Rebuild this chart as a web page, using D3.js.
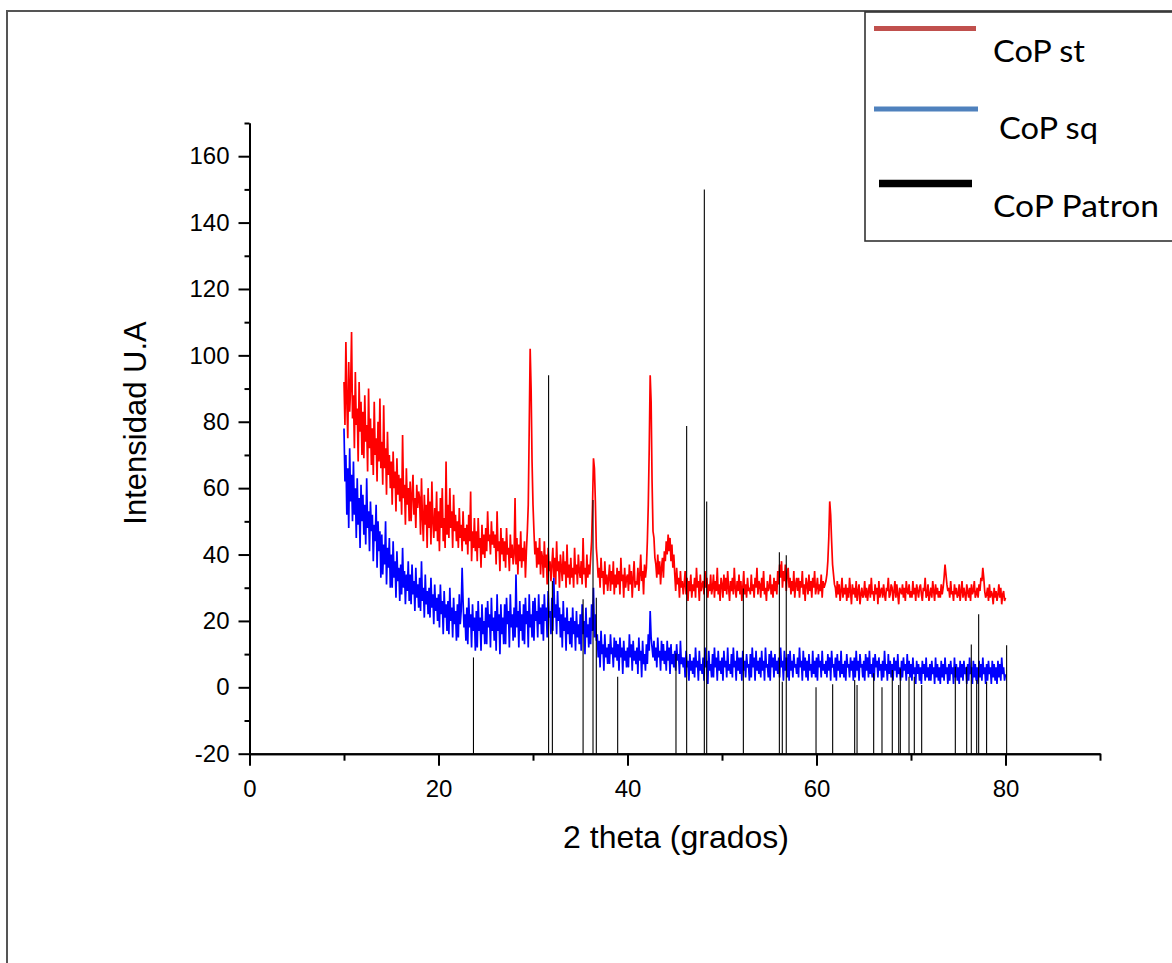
<!DOCTYPE html>
<html>
<head>
<meta charset="utf-8">
<script src="https://cdn.jsdelivr.net/npm/d3@7"></script>
<style>
  body { margin: 0; background: #fff; }
  svg { display: block; }
</style>
</head>
<body>
<script>
// XRD patterns, sampled every 0.1 deg from 10 to 80 (2 theta)
var thetaStart = 10, thetaStep = 0.1;

var copSt = [
  92,79,104,86,75,98,83,90,107,81,
  88,72,95,79,84,68,92,77,86,70,
  83,69,88,74,79,65,90,72,81,67,
  78,64,86,70,75,62,80,68,87,66,
  74,61,85,66,72,58,77,64,70,60,
  68,55,71,60,65,53,69,58,64,56,
  63,52,76,57,61,49,66,55,60,50,
  62,50,58,64,52,57,48,61,54,59,
  57,46,63,51,44,58,49,55,42,60,
  48,56,43,62,50,45,54,47,59,44,
  53,41,57,48,60,44,51,42,68,46,
  55,45,60,48,53,42,58,47,52,44,
  50,42,54,45,49,41,53,44,48,43,
  49,40,52,44,59,38,47,42,51,41,
  47,38,51,42,45,36,49,40,46,39,
  48,41,53,44,46,40,50,43,47,42,
  46,37,53,41,44,35,48,40,45,38,
  44,36,48,40,42,35,46,39,43,37,
  40,57,37,45,34,43,38,47,36,42,
  38,44,33,41,47,55,78,102,90,68,
  55,47,40,44,36,42,37,45,34,41,
  39,33,44,36,40,31,42,35,38,32,
  37,42,33,39,31,44,35,38,30,40,
  36,32,41,34,38,30,43,33,37,31,
  39,33,36,30,42,34,37,31,40,35,
  33,38,31,45,34,36,30,40,33,37,
  34,39,44,55,69,66,56,42,38,33,
  36,30,39,33,35,28,38,31,34,29,
  33,37,29,35,31,38,28,34,30,36,
  31,35,28,39,32,34,27,36,30,33,
  34,29,37,31,35,27,33,38,30,32,
  31,36,29,34,40,32,35,28,37,33,
  36,44,55,72,94,86,62,47,45,39,
  37,33,40,34,38,31,36,39,33,41,
  38,44,40,46,41,45,38,43,36,40,
  34,29,36,31,33,27,35,30,32,28,
  31,35,28,33,26,32,29,34,27,31,
  29,33,27,36,30,32,26,34,29,31,
  32,28,35,30,33,27,31,29,34,28,
  30,34,27,32,29,36,28,31,26,33,
  31,27,34,29,33,28,35,30,26,32,
  29,33,28,36,30,27,32,29,34,28,
  32,26,30,35,28,31,27,33,29,30,
  28,34,29,31,27,33,30,36,28,32,
  31,27,33,29,35,28,30,26,32,29,
  30,34,28,31,27,33,29,32,28,35,
  31,37,33,38,30,35,32,37,29,34,
  36,30,33,28,32,29,35,27,31,33,
  29,33,27,32,30,35,28,31,26,33,
  31,28,34,29,32,27,33,30,35,28,
  30,33,28,31,29,34,27,32,30,31,
  32,34,38,45,56,52,44,37,34,31,
  30,27,32,28,31,26,29,33,27,30,
  28,31,26,30,27,33,29,25,31,28,
  30,27,32,26,29,31,25,28,30,27,
  28,32,27,30,26,29,31,27,33,28,
  29,26,31,28,30,25,32,27,29,30,
  27,31,28,26,30,29,33,27,28,31,
  30,26,29,32,27,31,28,25,30,29,
  28,31,27,30,26,32,29,28,31,27,
  29,27,32,28,30,26,31,29,27,30,
  31,28,26,30,29,33,27,28,31,26,
  28,30,27,32,29,26,31,28,30,27,
  29,27,31,28,30,33,37,34,31,29,
  30,27,32,28,29,26,31,28,30,27,
  28,31,26,29,32,27,30,28,26,31,
  29,27,30,26,31,28,29,32,27,28,
  30,27,31,29,33,32,36,33,29,27,
  28,30,26,31,27,29,28,25,30,27,
  29,26,28,31,27,30,25,28,29,26,
  27
];

var copSq = [
  78,62,70,52,66,48,72,56,64,50,
  68,52,60,45,63,49,57,42,61,50,
  58,46,55,43,63,48,53,41,56,47,
  52,38,49,44,55,36,50,41,47,33,
  46,34,43,37,50,31,42,36,45,30,
  40,30,44,33,38,27,41,32,36,26,
  37,28,42,30,35,25,34,29,38,26,
  34,25,37,28,32,23,36,27,31,24,
  33,23,38,26,30,21,34,25,29,22,
  30,21,33,24,28,19,31,23,27,20,
  28,18,31,22,26,16,29,21,25,17,
  26,16,30,20,24,15,27,19,23,14,
  25,15,28,19,23,36,26,18,22,14,
  24,13,27,18,22,12,25,17,21,11,
  23,12,26,17,21,11,25,16,20,13,
  24,13,26,18,22,12,27,17,21,14,
  23,11,28,17,22,10,25,16,21,13,
  25,13,27,19,23,12,28,18,22,14,
  24,15,34,18,23,12,26,17,22,14,
  25,13,27,19,23,12,28,18,22,15,
  26,14,27,20,23,15,28,19,24,16,
  25,14,28,20,24,15,29,21,23,16,
  27,17,33,21,25,16,29,20,24,15,
  22,12,26,17,21,11,24,16,20,13,
  21,12,24,16,20,11,23,15,19,13,
  22,11,25,16,20,10,24,15,19,12,
  21,13,25,17,30,15,22,14,16,9,
  14,6,17,10,13,5,16,9,12,7,
  13,7,16,10,12,6,15,9,14,8,
  13,5,15,9,12,4,14,8,11,6,
  12,6,16,9,13,5,14,8,11,7,
  12,4,15,8,11,3,14,7,10,5,
  13,7,16,11,23,15,12,9,14,8,
  12,6,15,9,11,5,14,8,13,7,
  11,5,14,8,12,4,13,7,10,6,
  11,5,13,8,10,4,14,7,9,6,
  9,3,11,6,8,2,10,5,8,4,
  9,3,12,6,8,2,11,5,7,4,
  9,2,12,6,8,1,11,5,7,3,
  10,3,12,6,9,2,11,5,8,4,
  9,2,11,6,8,3,12,5,7,4,
  10,3,12,6,8,2,11,5,9,4,
  9,2,11,5,8,3,10,6,7,2,
  10,3,12,6,9,2,11,5,8,4,
  9,3,11,5,8,2,12,6,7,3,
  10,2,11,6,9,3,10,5,8,4,
  9,3,12,6,8,2,11,5,9,3,
  10,2,11,5,8,3,10,6,7,4,
  9,3,12,6,8,2,11,5,9,3,
  8,2,10,5,7,3,11,4,8,3,
  9,2,10,6,8,3,11,5,7,4,
  8,3,10,5,9,2,11,6,7,3,
  9,2,10,5,8,3,11,4,7,3,
  8,2,10,6,7,3,9,5,8,2,
  9,3,11,5,8,2,10,6,7,3,
  8,2,10,5,9,3,11,4,7,3,
  9,2,10,6,8,3,9,5,7,2,
  8,3,11,5,7,2,10,4,8,3,
  7,2,9,5,8,3,10,4,6,2,
  8,3,9,5,7,2,10,4,8,3,
  7,2,9,4,6,1,8,4,7,2,
  6,1,8,4,7,2,9,3,6,2,
  7,2,8,4,6,1,9,3,7,2,
  6,1,8,3,7,2,9,4,6,1,
  7,2,8,4,6,1,9,3,7,2,
  6,1,8,3,7,2,8,4,6,1,
  7,2,9,4,6,1,8,3,7,2,
  6,1,8,3,7,2,9,4,6,1,
  7,2,8,4,6,1,8,3,7,2,
  6,1,8,3,7,2,9,4,6,2,
  4
];

// reference pattern (sticks)
var patronTheta = [23.7, 31.65, 32.05, 35.3, 36.35, 36.7, 38.96, 45.13, 46.26, 48.13, 48.38,
  52.26, 56.07, 56.38, 56.8, 59.95, 61.71, 64.04, 64.29, 66.05, 66.93, 68.02, 68.7, 68.87,
  69.79, 70.35, 71.13, 74.69, 75.89, 76.38, 76.95, 77.16, 78.0, 80.12];
var patronInt = [9, 94, 32, 26.5, 56.4, 27, 3.2, 10.2, 78.7, 150, 56,
  29.8, 40.7, 1.7, 39.8, 0, 0.9, 2.2, 0.7, 4.2, 0, 5.2, 0.7, 5.7,
  3.2, 3.2, 0.7, 6.2, 6.2, 12.9, 2.2, 22, 1.7, 12.7];

var xMajor = [0, 20, 40, 60, 80], xMinor = [10, 30, 50, 70, 90];
var yMajor = [-20, 0, 20, 40, 60, 80, 100, 120, 140, 160];
var yMinor = [-10, 10, 30, 50, 70, 90, 110, 130, 150, 170];

var legendNames = ["CoP st", "CoP sq", "CoP Patron"];

var width = 1172, height = 963;

var svg = d3.select("body").append("svg")
    .attr("width", width)
    .attr("height", height);

// page frame
svg.append("rect")
    .attr("x", 7).attr("y", 11)
    .attr("width", 1200).attr("height", 1000)
    .attr("fill", "none")
    .attr("stroke", "#555")
    .attr("stroke-width", 2);

var x = d3.scaleLinear().domain([0, 90]).range([249.5, 1100]);
var y = d3.scaleLinear().domain([-20, 170]).range([753.7, 123]);

var line = d3.line()
    .x(function(d) { return x(d[0]); })
    .y(function(d) { return y(d[1]); });

function toPoints(vals) {
  return vals.map(function(v, i) { return [thetaStart + i * thetaStep, v]; });
}

svg.append("path")
    .datum(toPoints(copSt))
    .attr("fill", "none")
    .attr("stroke", "#ff0000")
    .attr("stroke-width", 1.7)
    .attr("d", line);

svg.append("path")
    .datum(toPoints(copSq))
    .attr("fill", "none")
    .attr("stroke", "#0000ff")
    .attr("stroke-width", 1.7)
    .attr("d", line);

svg.append("g")
    .selectAll("line")
    .data(patronTheta)
    .enter().append("line")
    .attr("x1", function(d) { return x(d); })
    .attr("x2", function(d) { return x(d); })
    .attr("y1", y(-20))
    .attr("y2", function(d, i) { return y(patronInt[i]); })
    .attr("stroke", "#000")
    .attr("stroke-width", 1.1);

// axes
var axisFont = "'Liberation Sans', Arial, sans-serif";
var plain = function(d) { return String(d); };

var gx = svg.append("g").attr("transform", "translate(0," + y(-20) + ")");
gx.call(d3.axisBottom(x).tickValues(xMajor).tickSize(12).tickSizeOuter(0).tickPadding(14).tickFormat(plain));
gx.append("g").call(d3.axisBottom(x).tickValues(xMinor).tickSize(7).tickSizeOuter(0).tickFormat(""));

var gy = svg.append("g").attr("transform", "translate(" + x(0) + ",0)");
gy.call(d3.axisLeft(y).tickValues(yMajor).tickSize(11).tickSizeOuter(0).tickPadding(9).tickFormat(plain));
gy.append("g").call(d3.axisLeft(y).tickValues(yMinor).tickSize(5).tickSizeOuter(0).tickFormat(""));

svg.selectAll(".domain").attr("stroke", "#000").attr("stroke-width", 2);
svg.selectAll(".tick line").attr("stroke", "#000").attr("stroke-width", 2);
svg.selectAll(".tick text")
    .attr("font-family", axisFont)
    .attr("font-size", 24)
    .attr("fill", "#000");

svg.append("text")
    .attr("x", 676).attr("y", 848)
    .attr("text-anchor", "middle")
    .attr("font-family", axisFont)
    .attr("font-size", 32)
    .text("2 theta (grados)");

svg.append("text")
    .attr("transform", "translate(146,423) rotate(-90)")
    .attr("text-anchor", "middle")
    .attr("font-family", axisFont)
    .attr("font-size", 31)
    .text("Intensidad U.A");

// legend
var legend = svg.append("g");
legend.append("rect")
    .attr("x", 865).attr("y", 12)
    .attr("width", 400).attr("height", 229)
    .attr("fill", "#fff")
    .attr("stroke", "#333")
    .attr("stroke-width", 1.6);

var legendLines = [
  {x1: 874, x2: 976, y: 28.5, color: "#c0504d", w: 5},
  {x1: 874, x2: 978, y: 109, color: "#4f81bd", w: 5},
  {x1: 879, x2: 972, y: 183.5, color: "#000", w: 7.5}
];
var legendText = [
  {x: 993, y: 62, len: 92},
  {x: 999, y: 139, len: 99},
  {x: 993, y: 217, len: 166}
];

legend.selectAll("line")
    .data(legendLines)
    .enter().append("line")
    .attr("x1", function(d) { return d.x1; })
    .attr("x2", function(d) { return d.x2; })
    .attr("y1", function(d) { return d.y; })
    .attr("y2", function(d) { return d.y; })
    .attr("stroke", function(d) { return d.color; })
    .attr("stroke-width", function(d) { return d.w; });

legend.selectAll("text")
    .data(legendNames)
    .enter().append("text")
    .attr("x", function(d, i) { return legendText[i].x; })
    .attr("y", function(d, i) { return legendText[i].y; })
    .attr("font-family", "Lato, 'Open Sans', sans-serif")
    .attr("font-size", 31)
    .attr("textLength", function(d, i) { return legendText[i].len; })
    .attr("lengthAdjust", "spacingAndGlyphs")
    .text(function(d) { return d; });
</script>
</body>
</html>
